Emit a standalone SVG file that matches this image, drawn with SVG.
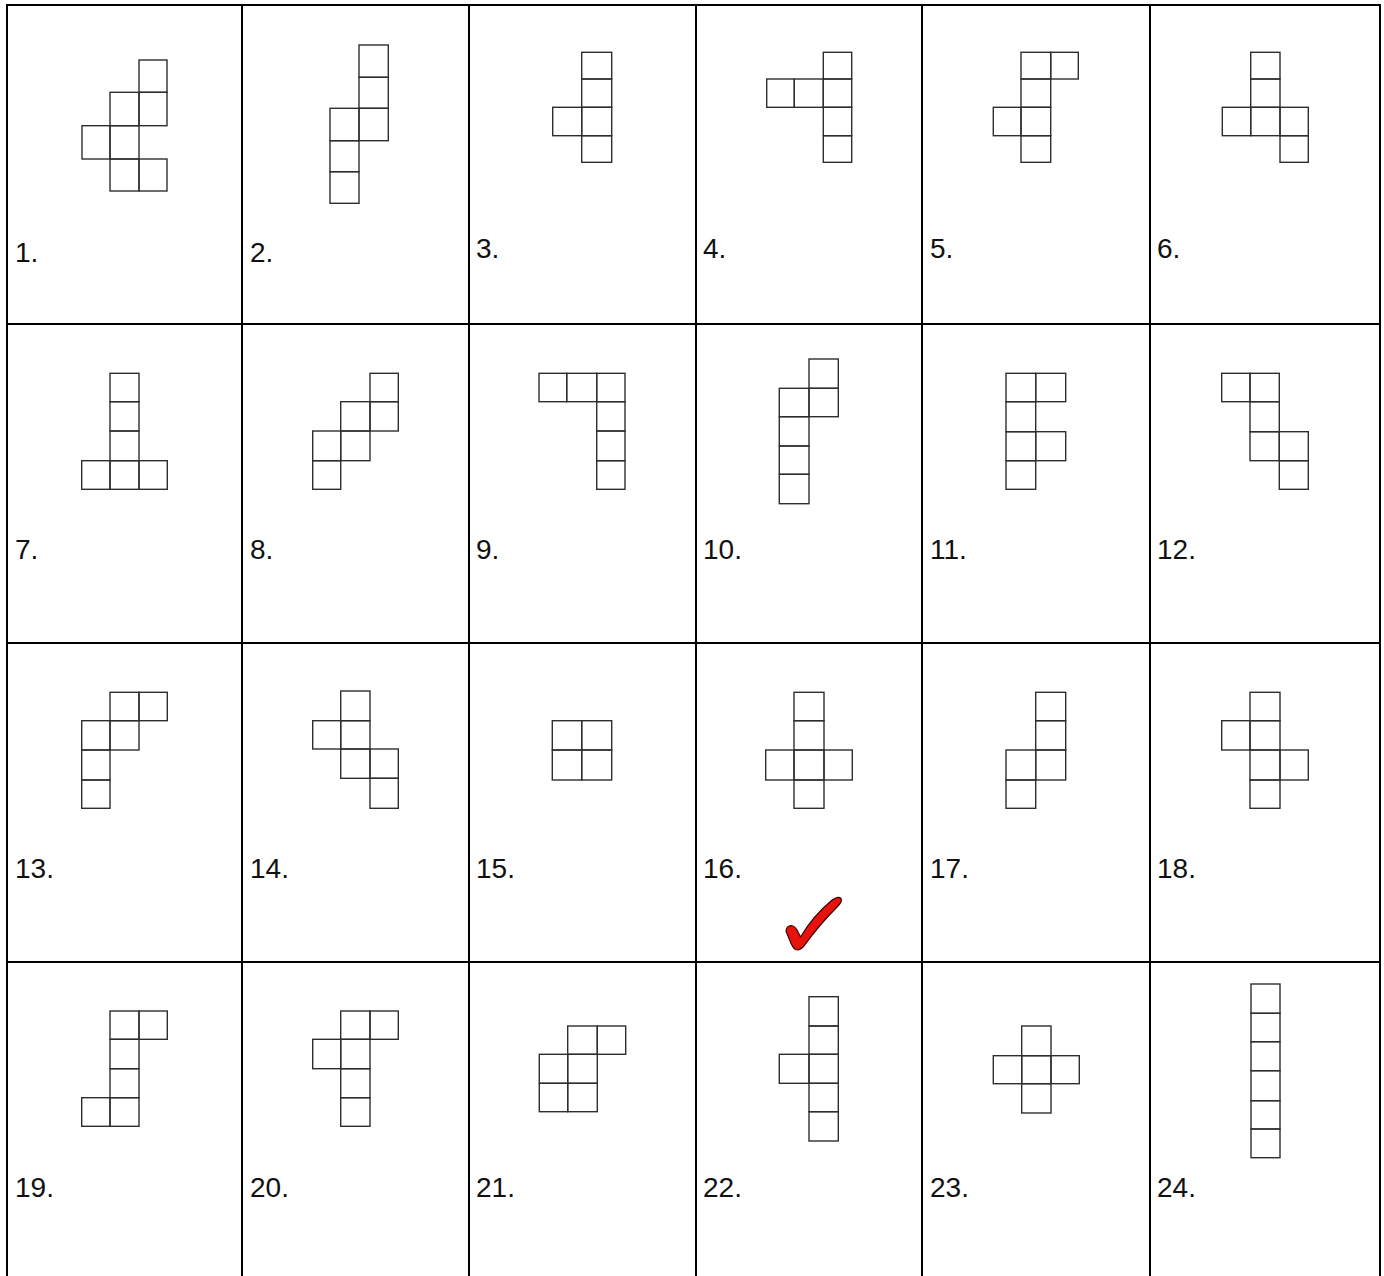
<svg xmlns="http://www.w3.org/2000/svg" width="1384" height="1276" viewBox="0 0 1384 1276">
<style>
.g{stroke:#000;stroke-width:2;fill:none}
.s rect{fill:none;stroke:#2e2e2e;stroke-width:1.4}
.l{font-family:"Liberation Sans",Arial,sans-serif;font-size:28px;fill:#111}
.chk{fill:#e8120c;stroke:#3a0000;stroke-width:1.2;stroke-linejoin:round}
</style>
<rect width="1384" height="1276" fill="#fff"/>
<g id="grid" class="g">
<line x1="6" y1="5" x2="1381" y2="5"/>
<line x1="6" y1="324" x2="1381" y2="324"/>
<line x1="6" y1="643" x2="1381" y2="643"/>
<line x1="6" y1="962" x2="1381" y2="962"/>
<line x1="7" y1="4" x2="7" y2="1276"/>
<line x1="242" y1="4" x2="242" y2="1276"/>
<line x1="469" y1="4" x2="469" y2="1276"/>
<line x1="696" y1="4" x2="696" y2="1276"/>
<line x1="922" y1="4" x2="922" y2="1276"/>
<line x1="1150" y1="4" x2="1150" y2="1276"/>
<line x1="1380" y1="4" x2="1380" y2="1276"/>
</g>
<g id="n1" class="s">
<rect x="139" y="60" width="28" height="32.3"/><rect x="110" y="92.3" width="29" height="33.4"/><rect x="139" y="92.3" width="28" height="33.4"/><rect x="82" y="125.7" width="28" height="33.3"/><rect x="110" y="125.7" width="29" height="33.3"/><rect x="110" y="159" width="29" height="32"/><rect x="139" y="159" width="28" height="32"/>
<text class="l" x="15" y="262">1.</text>
</g>
<g id="n2" class="s">
<rect x="359" y="45" width="29.3" height="32.3"/><rect x="359" y="77.3" width="29.3" height="31"/><rect x="359" y="108.3" width="29.3" height="32.4"/><rect x="330" y="108.3" width="29" height="32.4"/><rect x="330" y="140.7" width="29" height="31"/><rect x="330" y="171.7" width="29" height="31.6"/>
<text class="l" x="250" y="262">2.</text>
</g>
<g id="n3" class="s">
<rect x="581.7" y="52.3" width="30" height="26.7"/><rect x="581.7" y="79" width="30" height="28.3"/><rect x="581.7" y="107.3" width="30" height="28.4"/><rect x="581.7" y="135.7" width="30" height="26.6"/><rect x="552.7" y="107.3" width="29" height="28.4"/>
<text class="l" x="476" y="258">3.</text>
</g>
<g id="n4" class="s">
<rect x="823.3" y="52.3" width="28.4" height="26.7"/><rect x="823.3" y="79" width="28.4" height="28.3"/><rect x="823.3" y="107.3" width="28.4" height="28.4"/><rect x="823.3" y="135.7" width="28.4" height="26.6"/><rect x="766.7" y="79" width="27.6" height="28.3"/><rect x="794.3" y="79" width="29" height="28.3"/>
<text class="l" x="703" y="258">4.</text>
</g>
<g id="n5" class="s">
<rect x="1021" y="52.3" width="29.7" height="26.7"/><rect x="1021" y="79" width="29.7" height="28.3"/><rect x="1021" y="107.3" width="29.7" height="28.4"/><rect x="1021" y="135.7" width="29.7" height="26.6"/><rect x="1050.7" y="52.3" width="27.6" height="26.7"/><rect x="993.3" y="107.3" width="27.7" height="28.4"/>
<text class="l" x="930" y="258">5.</text>
</g>
<g id="n6" class="s">
<rect x="1250.7" y="52.3" width="29.3" height="26.7"/><rect x="1250.7" y="79" width="29.3" height="28.3"/><rect x="1250.7" y="107.3" width="29.3" height="28.4"/><rect x="1222.3" y="107.3" width="28.4" height="28.4"/><rect x="1280" y="107.3" width="28.3" height="28.4"/><rect x="1280" y="135.7" width="28.3" height="26.6"/>
<text class="l" x="1157" y="258">6.</text>
</g>
<g id="n7" class="s">
<rect x="110" y="373.3" width="29" height="28.4"/><rect x="110" y="401.7" width="29" height="29.3"/><rect x="110" y="431" width="29" height="29.7"/><rect x="110" y="460.7" width="29" height="28.6"/><rect x="81.7" y="460.7" width="28.3" height="28.6"/><rect x="139" y="460.7" width="28.3" height="28.6"/>
<text class="l" x="15" y="559">7.</text>
</g>
<g id="n8" class="s">
<rect x="370" y="373.3" width="28.3" height="28.4"/><rect x="340.7" y="401.7" width="29.3" height="29.3"/><rect x="370" y="401.7" width="28.3" height="29.3"/><rect x="312.7" y="431" width="28" height="29.7"/><rect x="340.7" y="431" width="29.3" height="29.7"/><rect x="312.7" y="460.7" width="28" height="28.6"/>
<text class="l" x="250" y="559">8.</text>
</g>
<g id="n9" class="s">
<rect x="539" y="373.3" width="27.7" height="28.4"/><rect x="566.7" y="373.3" width="30" height="28.4"/><rect x="596.7" y="373.3" width="28.3" height="28.4"/><rect x="596.7" y="401.7" width="28.3" height="29.3"/><rect x="596.7" y="431" width="28.3" height="29.7"/><rect x="596.7" y="460.7" width="28.3" height="28.6"/>
<text class="l" x="476" y="559">9.</text>
</g>
<g id="n10" class="s">
<rect x="809" y="359" width="29.3" height="29.3"/><rect x="779.3" y="388.3" width="29.7" height="28.4"/><rect x="809" y="388.3" width="29.3" height="28.4"/><rect x="779.3" y="416.7" width="29.7" height="29.3"/><rect x="779.3" y="446" width="29.7" height="28.3"/><rect x="779.3" y="474.3" width="29.7" height="29.4"/>
<text class="l" x="703" y="559">10.</text>
</g>
<g id="n11" class="s">
<rect x="1006" y="373.3" width="29.7" height="28.4"/><rect x="1006" y="401.7" width="29.7" height="30"/><rect x="1006" y="431.7" width="29.7" height="29"/><rect x="1006" y="460.7" width="29.7" height="28.6"/><rect x="1035.7" y="373.3" width="30" height="28.4"/><rect x="1035.7" y="431.7" width="30" height="29"/>
<text class="l" x="930" y="559">11.</text>
</g>
<g id="n12" class="s">
<rect x="1221.7" y="373.3" width="28.3" height="28.4"/><rect x="1250" y="373.3" width="29.3" height="28.4"/><rect x="1250" y="401.7" width="29.3" height="30"/><rect x="1250" y="431.7" width="29.3" height="29"/><rect x="1279.3" y="431.7" width="29" height="29"/><rect x="1279.3" y="460.7" width="29" height="28.6"/>
<text class="l" x="1157" y="559">12.</text>
</g>
<g id="n13" class="s">
<rect x="110" y="692.3" width="29" height="28.4"/><rect x="139" y="692.3" width="28.3" height="28.4"/><rect x="81.7" y="720.7" width="28.3" height="29.3"/><rect x="110" y="720.7" width="29" height="29.3"/><rect x="81.7" y="750" width="28.3" height="30"/><rect x="81.7" y="780" width="28.3" height="28.3"/>
<text class="l" x="15" y="878">13.</text>
</g>
<g id="n14" class="s">
<rect x="340.7" y="691" width="29.3" height="29.7"/><rect x="312.7" y="720.7" width="28" height="28.3"/><rect x="340.7" y="720.7" width="29.3" height="28.3"/><rect x="340.7" y="749" width="29.3" height="29.3"/><rect x="370" y="749" width="28.3" height="29.3"/><rect x="370" y="778.3" width="28.3" height="30"/>
<text class="l" x="250" y="878">14.</text>
</g>
<g id="n15" class="s">
<rect x="552.3" y="720.7" width="29.4" height="29.3"/><rect x="581.7" y="720.7" width="30" height="29.3"/><rect x="552.3" y="750" width="29.4" height="30"/><rect x="581.7" y="750" width="30" height="30"/>
<text class="l" x="476" y="878">15.</text>
</g>
<g id="n16" class="s">
<rect x="794" y="692.3" width="30" height="28.4"/><rect x="794" y="720.7" width="30" height="29.3"/><rect x="794" y="750" width="30" height="30"/><rect x="794" y="780" width="30" height="28.3"/><rect x="765.7" y="750" width="28.3" height="30"/><rect x="824" y="750" width="28.3" height="30"/>
<text class="l" x="703" y="878">16.</text>
<path class="chk" d="M786 931 Q786.5 925.5 791.5 925.5 Q795.5 926 798.5 933 L800.5 937 Q813 916 831 901 Q838 895.5 841 898.5 Q842.5 901.5 838 906 Q819 925 804 946 Q799.5 951 795.5 949.5 Q792.5 947.5 790 941 Q788 936 786 931 Z"/>
</g>
<g id="n17" class="s">
<rect x="1035.7" y="692.3" width="30" height="28.4"/><rect x="1035.7" y="720.7" width="30" height="29.3"/><rect x="1035.7" y="750" width="30" height="30"/><rect x="1006" y="750" width="29.7" height="30"/><rect x="1006" y="780" width="29.7" height="28.3"/>
<text class="l" x="930" y="878">17.</text>
</g>
<g id="n18" class="s">
<rect x="1250" y="692.3" width="30" height="28.4"/><rect x="1250" y="720.7" width="30" height="29.3"/><rect x="1250" y="750" width="30" height="30"/><rect x="1250" y="780" width="30" height="28.3"/><rect x="1221.7" y="720.7" width="28.3" height="29.3"/><rect x="1280" y="750" width="28.3" height="30"/>
<text class="l" x="1157" y="878">18.</text>
</g>
<g id="n19" class="s">
<rect x="110" y="1011" width="29" height="28.3"/><rect x="139" y="1011" width="28.3" height="28.3"/><rect x="110" y="1039.3" width="29" height="29.4"/><rect x="110" y="1068.7" width="29" height="29"/><rect x="81.7" y="1097.7" width="28.3" height="28.6"/><rect x="110" y="1097.7" width="29" height="28.6"/>
<text class="l" x="15" y="1197">19.</text>
</g>
<g id="n20" class="s">
<rect x="340.7" y="1011" width="29.3" height="28.3"/><rect x="370" y="1011" width="28.3" height="28.3"/><rect x="312.7" y="1039.3" width="28" height="29.4"/><rect x="340.7" y="1039.3" width="29.3" height="29.4"/><rect x="340.7" y="1068.7" width="29.3" height="29"/><rect x="340.7" y="1097.7" width="29.3" height="28.6"/>
<text class="l" x="250" y="1197">20.</text>
</g>
<g id="n21" class="s">
<rect x="567.7" y="1026" width="29.6" height="28.3"/><rect x="597.3" y="1026" width="28.4" height="28.3"/><rect x="539.3" y="1054.3" width="28.4" height="29"/><rect x="567.7" y="1054.3" width="29.6" height="29"/><rect x="539.3" y="1083.3" width="28.4" height="28.4"/><rect x="567.7" y="1083.3" width="29.6" height="28.4"/>
<text class="l" x="476" y="1197">21.</text>
</g>
<g id="n22" class="s">
<rect x="809" y="996.7" width="29.3" height="29.3"/><rect x="809" y="1026" width="29.3" height="28.3"/><rect x="809" y="1054.3" width="29.3" height="29"/><rect x="809" y="1083.3" width="29.3" height="28.4"/><rect x="809" y="1111.7" width="29.3" height="29.3"/><rect x="779.3" y="1054.3" width="29.7" height="29"/>
<text class="l" x="703" y="1197">22.</text>
</g>
<g id="n23" class="s">
<rect x="1021.7" y="1026" width="29.3" height="29.7"/><rect x="993.3" y="1055.7" width="28.4" height="28"/><rect x="1021.7" y="1055.7" width="29.3" height="28"/><rect x="1051" y="1055.7" width="28.3" height="28"/><rect x="1021.7" y="1083.7" width="29.3" height="29.3"/>
<text class="l" x="930" y="1197">23.</text>
</g>
<g id="n24" class="s">
<rect x="1251" y="984" width="29" height="29.3"/><rect x="1251" y="1013.3" width="29" height="28.4"/><rect x="1251" y="1041.7" width="29" height="29"/><rect x="1251" y="1070.7" width="29" height="30"/><rect x="1251" y="1100.7" width="29" height="28.3"/><rect x="1251" y="1129" width="29" height="28.7"/>
<text class="l" x="1157" y="1197">24.</text>
</g>
</svg>
